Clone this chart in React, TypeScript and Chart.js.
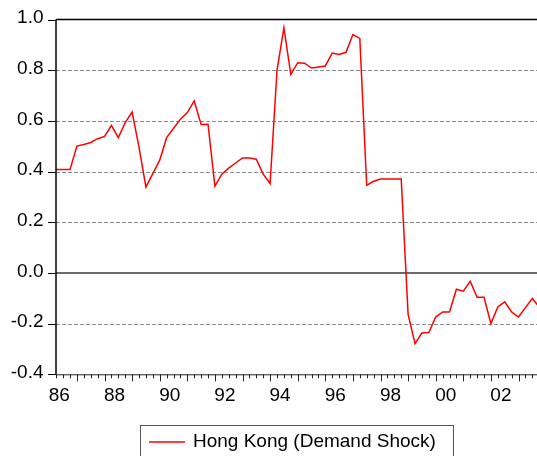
import React, { useEffect, useRef } from "react";
import { Chart, registerables } from "chart.js";

Chart.register(...registerables);

const seriesName = "Hong Kong (Demand Shock)";
const quarters: string[] = [];
for (let yr = 1986; yr <= 2003; yr++) for (let q = 1; q <= 4; q++) quarters.push(`${yr}Q${q}`);

const demandShock = [
  0.408, 0.408, 0.408, 0.501, 0.507, 0.515, 0.530, 0.539, 0.582, 0.534,
  0.593, 0.635, 0.497, 0.339, 0.392, 0.445, 0.534, 0.570, 0.607, 0.633,
  0.679, 0.586, 0.587, 0.343, 0.390, 0.414, 0.434, 0.454, 0.454, 0.449,
  0.390, 0.353, 0.800, 0.967, 0.784, 0.830, 0.828, 0.809, 0.813, 0.817,
  0.868, 0.862, 0.871, 0.941, 0.926, 0.346, 0.362, 0.371, 0.371, 0.371,
  0.371, -0.164, -0.279, -0.237, -0.235, -0.174, -0.154, -0.154, -0.064, -0.072,
  -0.033, -0.096, -0.096, -0.200, -0.134, -0.114, -0.154, -0.174, -0.137, -0.101,
  -0.134,
];

const xTickLabels = ["86", "88", "90", "92", "94", "96", "98", "00", "02"];
const yTickValues = [-0.4, -0.2, 0.0, 0.2, 0.4, 0.6, 0.8, 1.0];
const dashedLevels = [-0.2, 0.2, 0.4, 0.6, 0.8];

const FONT = "'Liberation Sans', Arial, sans-serif";

const framePlugin = {
  id: "eviewsFrame",
  beforeDatasetsDraw(chart: any) {
    const { ctx, chartArea: a, scales } = chart;
    const y = scales.y;
    ctx.save();
    ctx.strokeStyle = "#8c8c8c";
    ctx.lineWidth = 1;
    ctx.setLineDash([4, 2]);
    for (const v of dashedLevels) {
      const py = Math.round(y.getPixelForValue(v)) + 0.5;
      ctx.beginPath();
      ctx.moveTo(a.left, py);
      ctx.lineTo(a.right, py);
      ctx.stroke();
    }
    ctx.setLineDash([]);
    ctx.strokeStyle = "#3a3a3a";
    ctx.lineWidth = 1.5;
    const pz = y.getPixelForValue(0);
    ctx.beginPath();
    ctx.moveTo(a.left, pz);
    ctx.lineTo(a.right, pz);
    ctx.stroke();
    ctx.restore();
  },
  afterDatasetsDraw(chart: any) {
    const { ctx, chartArea: a, scales } = chart;
    const x = scales.x;
    const y = scales.y;
    ctx.save();
    ctx.strokeStyle = "#000";
    ctx.lineWidth = 1.5;
    ctx.beginPath();
    ctx.moveTo(a.left, a.top);
    ctx.lineTo(a.right, a.top);
    ctx.stroke();
    ctx.beginPath();
    ctx.moveTo(a.left, a.top);
    ctx.lineTo(a.left, a.bottom);
    ctx.stroke();
    ctx.lineWidth = 1;
    ctx.strokeStyle = "#222";
    ctx.beginPath();
    ctx.moveTo(a.left, a.bottom + 0.5);
    ctx.lineTo(a.right, a.bottom + 0.5);
    ctx.stroke();
    ctx.strokeStyle = "#000";
    for (const v of yTickValues) {
      const py = Math.round(y.getPixelForValue(v)) + 0.5;
      ctx.beginPath();
      ctx.moveTo(a.left - 8, py);
      ctx.lineTo(a.left, py);
      ctx.stroke();
    }
    ctx.strokeStyle = "#222";
    for (let i = 0; i < quarters.length; i++) {
      const px = Math.round(x.getPixelForValue(i)) + 0.5;
      if (px > a.right) break;
      const len = i % 4 === 3 ? 7 : 4;
      ctx.beginPath();
      ctx.moveTo(px, a.bottom);
      ctx.lineTo(px, a.bottom + len);
      ctx.stroke();
    }
    ctx.restore();
  },
  afterDraw(chart: any) {
    const { ctx } = chart;
    ctx.save();
    ctx.strokeStyle = "#555";
    ctx.lineWidth = 1;
    ctx.strokeRect(140.5, 425.5, 313, 40);
    ctx.strokeStyle = "#ff0000";
    ctx.lineWidth = 1.5;
    ctx.beginPath();
    ctx.moveTo(149, 442);
    ctx.lineTo(185, 442);
    ctx.stroke();
    ctx.fillStyle = "#000";
    ctx.font = `19px ${FONT}`;
    ctx.textBaseline = "middle";
    ctx.textAlign = "left";
    ctx.fillText(seriesName, 193, 442);
    ctx.restore();
  },
};

export default function App() {
  const ref = useRef<HTMLCanvasElement | null>(null);
  useEffect(() => {
    if (!ref.current) return;
    const chart = new Chart(ref.current, {
      type: "line",
      data: {
        datasets: [
          {
            label: seriesName,
            data: demandShock.map((v, i) => ({ x: i, y: v })),
            borderColor: "#ff0000",
            borderWidth: 1.5,
            pointRadius: 0,
            tension: 0,
            fill: false,
          },
        ],
      },
      options: {
        animation: false,
        responsive: false,
        devicePixelRatio: 1,
        layout: { padding: { top: 19.6, left: 0, right: 0, bottom: 0 } },
        plugins: { legend: { display: false }, tooltip: { enabled: false } },
        scales: {
          x: {
            type: "linear",
            min: -0.03,
            max: 69.68,
            grid: { display: false, drawTicks: false },
            border: { display: false },
            afterBuildTicks: (scale: any) => {
              scale.ticks = xTickLabels.map((_, k) => ({ value: 8 * k + 0.45 }));
            },
            afterFit: (scale: any) => {
              scale.height = 81.7;
              scale.paddingLeft = 0;
              scale.paddingRight = 0;
            },
            ticks: {
              autoSkip: false,
              maxRotation: 0,
              padding: 10,
              color: "#000",
              font: { family: FONT, size: 19 },
              callback: (_v: any, idx: number) => xTickLabels[idx],
            },
          },
          y: {
            type: "linear",
            min: -0.4,
            max: 1.0,
            grid: { display: false, drawTicks: false },
            border: { display: false },
            afterBuildTicks: (scale: any) => {
              scale.ticks = yTickValues.map((v) => ({ value: v }));
            },
            afterFit: (scale: any) => {
              scale.width = 56;
              scale.paddingTop = 0;
              scale.paddingBottom = 0;
            },
            ticks: {
              padding: 12.5,
              labelOffset: -1.5,
              color: "#000",
              font: { family: FONT, size: 19 },
              callback: (v: any) => Number(v).toFixed(1),
            },
          },
        },
      },
      plugins: [framePlugin],
    });
    return () => chart.destroy();
  }, []);
  return (
    <div style={{ position: "absolute", left: 0, top: 0, width: 537, height: 456, background: "#fff" }}>
      <canvas ref={ref} width={537} height={456} style={{ display: "block" }} />
    </div>
  );
}
